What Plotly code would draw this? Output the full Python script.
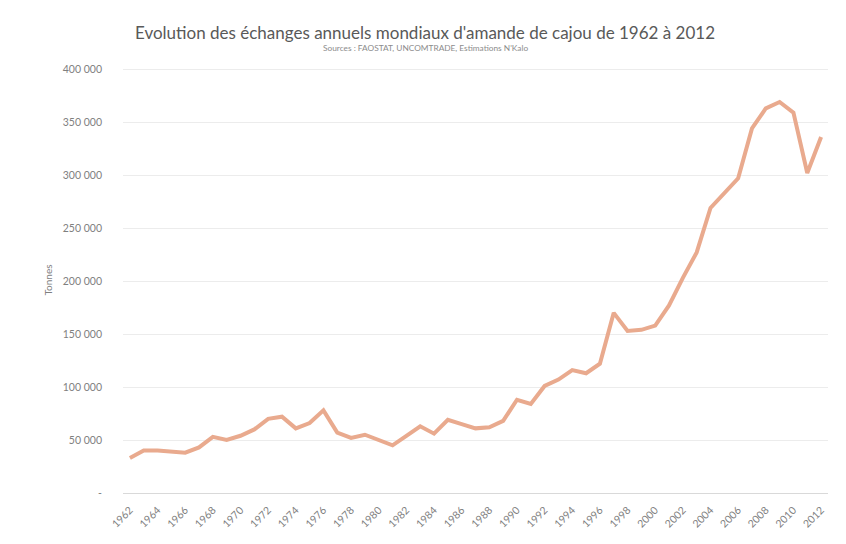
import plotly.graph_objects as go

years = [str(y) for y in range(1962, 2013)]
tonnes = [
    33000, 40000, 40000, 39000, 38000, 43000, 53000, 50000, 54000, 60000,
    70000, 72000, 61000, 66000, 78000, 57000, 52000, 55000, 50000, 45000,
    54000, 63000, 56000, 69000, 65000, 61000, 62000, 68000, 88000, 84000,
    101000, 107000, 116000, 113000, 122000, 170000, 153000, 154000, 158000, 177000,
    203000, 227000, 269000, 283000, 297000, 344000, 363000, 369000, 359000, 302000,
    336000,
]
x_tick_labels = years[::2]
y_tick_values = [0, 50000, 100000, 150000, 200000, 250000, 300000, 350000, 400000]
y_tick_labels = ["-", "50 000", "100 000", "150 000", "200 000", "250 000",
                 "300 000", "350 000", "400 000"]

title_text = "Evolution des échanges annuels mondiaux d'amande de cajou de 1962 à 2012"
subtitle_text = "Sources : FAOSTAT, UNCOMTRADE, Estimations N'Kalo"

FONT = "Lato, 'Open Sans', sans-serif"

# page body has an 8px default margin; figure sized to compensate
W, H = 838, 536
ML, MR, MT, MB = 115, 18, 59, 51
plot_w = W - ML - MR
plot_h = H - MT - MB

fig = go.Figure()
fig.add_trace(go.Scatter(
    x=years, y=tonnes, mode="lines",
    line=dict(color="#E9AA8E", width=4),
    showlegend=False, hoverinfo="x+y",
))

fig.update_layout(
    width=W, height=H,
    margin=dict(l=ML, r=MR, t=MT, b=MB, autoexpand=False),
    paper_bgcolor="white", plot_bgcolor="white",
    font=dict(family=FONT, color="#7f7f7f", size=10),
)
cx = (425 - 8 - ML) / plot_w
fig.add_annotation(text=title_text, xref="paper", yref="paper",
                   x=cx, y=1 + (MT - (32 - 8)) / plot_h,
                   xanchor="center", yanchor="middle", showarrow=False,
                   font=dict(size=17, color="#595959", family=FONT))
fig.add_annotation(text=subtitle_text, xref="paper", yref="paper",
                   x=cx, y=1 + (MT - (48 - 8)) / plot_h,
                   xanchor="center", yanchor="middle", showarrow=False,
                   font=dict(size=8.3, color="#8c8c8c", family=FONT))

fig.update_xaxes(
    type="category", range=[-0.5, len(years) - 0.5],
    tickmode="array", tickvals=x_tick_labels, ticktext=x_tick_labels,
    tickangle=-45, tickfont=dict(size=10.5, color="#7f7f7f"),
    ticklabelstandoff=6,
    showgrid=False, showline=True, linecolor="#d9d9d9", linewidth=1,
    ticks="", zeroline=False,
)
fig.update_yaxes(
    range=[0, 402000],
    tickmode="array", tickvals=y_tick_values, ticktext=y_tick_labels,
    tickfont=dict(size=10.5, color="#7f7f7f"), ticklabelstandoff=20,
    showgrid=True, gridcolor="#ececec", gridwidth=1,
    zeroline=False, showline=False, ticks="",
    title=dict(text="Tonnes", font=dict(size=10, color="#7f7f7f"), standoff=8),
)

fig.write_html("out.html")
